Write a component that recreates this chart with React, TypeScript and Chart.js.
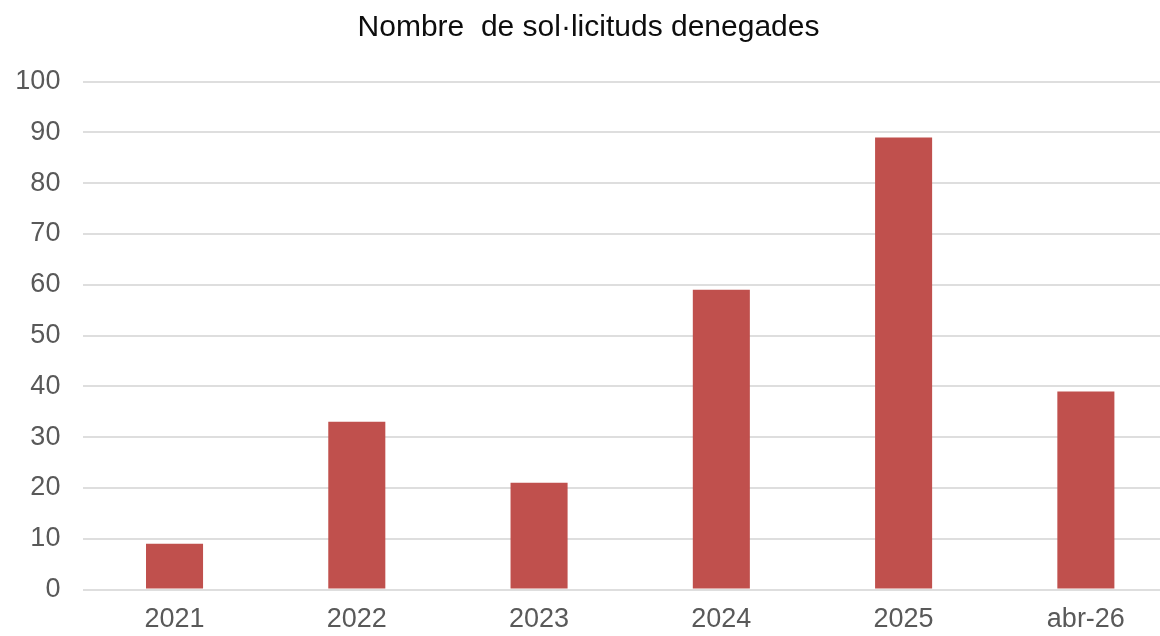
import React, { useEffect, useRef } from "react";
import { Chart, registerables } from "chart.js";

Chart.register(...registerables);

const categories = ["2021", "2022", "2023", "2024", "2025", "abr-26"];
const deniedRequests = [9, 33, 21, 59, 89, 39];
const chartTitle = "Nombre  de sol·licituds denegades";

export default function App() {
  const canvasRef = useRef<HTMLCanvasElement | null>(null);

  useEffect(() => {
    if (!canvasRef.current) return;
    const chart = new Chart(canvasRef.current, {
      type: "bar",
      data: {
        labels: categories,
        datasets: [
          {
            label: chartTitle,
            data: deniedRequests,
            backgroundColor: "#C0504D",
            borderWidth: 0,
            categoryPercentage: 1,
            barPercentage: 0.313,
          },
        ],
      },
      options: {
        animation: false,
        responsive: false,
        maintainAspectRatio: false,
        layout: { padding: 0 },
        plugins: {
          legend: { display: false },
          tooltip: { enabled: false },
          title: {
            display: true,
            text: chartTitle,
            color: "#0d0d0d",
            font: { family: "'Liberation Sans', Arial, sans-serif", size: 30, weight: "normal", lineHeight: 1.2 },
            padding: { top: 10, bottom: 35.5 },
          },
        },
        scales: {
          x: {
            grid: { display: false, drawTicks: false },
            border: { display: false },
            ticks: {
              color: "#595959",
              font: { family: "'Liberation Sans', Arial, sans-serif", size: 27, lineHeight: 1.2 },
              padding: 14,
              maxRotation: 0,
            },
            afterFit: (scale: any) => {
              scale.height = 46.5;
            },
          },
          y: {
            min: 0,
            max: 100,
            grid: { color: "#dedede", lineWidth: 2, drawTicks: false },
            border: { display: false },
            ticks: {
              stepSize: 10,
              color: "#595959",
              font: { family: "'Liberation Sans', Arial, sans-serif", size: 27, lineHeight: 1.2 },
              padding: 23,
            },
            afterFit: (scale: any) => {
              scale.width = 83.4;
            },
          },
        },
      },
    });
    return () => chart.destroy();
  }, []);

  return (
    <div
      style={{
        position: "fixed",
        left: 0,
        top: 0,
        width: 1160,
        height: 636,
        overflow: "hidden",
        background: "#ffffff",
      }}
    >
      <canvas ref={canvasRef} width={1177} height={636} style={{ display: "block" }} />
    </div>
  );
}
